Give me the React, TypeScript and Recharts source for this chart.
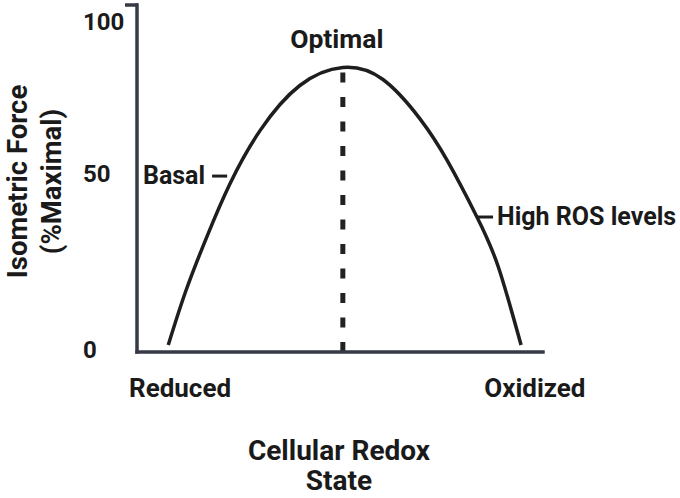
import React from 'react';
import { LineChart, Line, XAxis, YAxis, ReferenceLine } from 'recharts';

// Curve (x: redox state 0-100, y: isometric force % maximal)
const redoxState = [7.7, 12.0, 17.2, 22.9, 30.3, 40.1, 50.7, 60.5, 69.7, 76.5, 83.7, 89.0, 94.6];
const isometricForce = [2.0, 17.5, 33.2, 48.5, 63.8, 76.8, 82.0, 78.6, 67.2, 55.0, 39.0, 24.5, 2.0];

const yTicks = [0, 50, 100];
const xTickValues = [10.6, 98.0];
const xTickLabels = ['Reduced', 'Oxidized'];

const optimalLabel = 'Optimal';
const optimalX = 50.7;
const optimalY = 82.0;

const markerLabels = ['Basal', 'High ROS levels'];
const markerY = [50.7, 38.9];
const markerXStart = [18.5, 83.7];
const markerXEnd = [22.2, 87.7];

const xTitleLines = ['Cellular Redox', 'State'];
const yTitleLines = ['Isometric Force', '(%Maximal)'];

const data = redoxState.map((x, i) => ({ x, y: isometricForce[i] }));

const FONT = 'Roboto, "Noto Sans", Arial, sans-serif';
const INK = '#1a1a1a';
const AXIS = '#363a44';

const YTick = (props: any) => {
  const { x, y, payload } = props;
  const isTop = payload.value === yTicks[yTicks.length - 1];
  const isBottom = payload.value === yTicks[0];
  return (
    <g>
      {isTop && (
        <line x1={x + 2} x2={x + 15} y1={y} y2={y} stroke={AXIS} strokeWidth={3.5} />
      )}
      <text
        x={x - 40}
        y={y}
        dy={isTop ? 25 : isBottom ? 6 : 3}
        textAnchor="start"
        fontFamily={FONT}
        fontWeight={700}
        fontSize={24}
        fill={INK}
      >
        {payload.value}
      </text>
    </g>
  );
};

const XTick = (props: any) => {
  const { x, y, payload, index } = props;
  return (
    <text
      x={x}
      y={y}
      dy={45}
      textAnchor="middle"
      fontFamily={FONT}
      fontWeight={700}
      fontSize={26}
      fill={INK}
    >
      {xTickLabels[index] ?? payload.value}
    </text>
  );
};

const XTitle = (props: any) => {
  const vb = props.viewBox;
  const cx = vb.x + vb.width / 2 - 1;
  return (
    <text textAnchor="middle" fontFamily={FONT} fontWeight={700} fontSize={28} fill={INK}>
      <tspan x={cx} y={vb.y + 108}>{xTitleLines[0]}</tspan>
      <tspan x={cx} y={vb.y + 138}>{xTitleLines[1]}</tspan>
    </text>
  );
};

const YTitle = (props: any) => {
  const vb = props.viewBox;
  const px = vb.x + 44;
  const py = vb.y + vb.height / 2 + 3;
  return (
    <text
      transform={`rotate(-90, ${px}, ${py})`}
      textAnchor="middle"
      fontFamily={FONT}
      fontWeight={700}
      fontSize={27.5}
      fill={INK}
    >
      <tspan x={px} y={py - 17}>{yTitleLines[0]}</tspan>
      <tspan x={px} y={py + 17}>{yTitleLines[1]}</tspan>
    </text>
  );
};

const OptimalLabel = (props: any) => {
  const vb = props.viewBox;
  return (
    <text
      x={vb.x - 6}
      y={vb.y - 19}
      textAnchor="middle"
      fontFamily={FONT}
      fontWeight={700}
      fontSize={26.5}
      fill={INK}
    >
      {optimalLabel}
    </text>
  );
};

const makeMarkerLabel = (i: number) => (props: any) => {
  const vb = props.viewBox;
  const left = i === 0;
  return (
    <text
      x={left ? vb.x - 7 : vb.x + vb.width + 4}
      y={vb.y + 8}
      textAnchor={left ? 'end' : 'start'}
      fontFamily={FONT}
      fontWeight={700}
      fontSize={25}
      fill={INK}
    >
      {markerLabels[i]}
    </text>
  );
};

export default function App() {
  return (
    <div style={{ position: 'absolute', left: 0, top: 0, width: 680, height: 498, background: '#fff' }}>
      <LineChart width={680} height={498} data={data} margin={{ top: 5, right: 137, bottom: 0, left: 0 }}>
        <XAxis
          type="number"
          dataKey="x"
          domain={[0, 100]}
          ticks={xTickValues}
          tick={<XTick />}
          tickLine={false}
          tickSize={0}
          tickMargin={0}
          height={146}
          axisLine={{ stroke: AXIS, strokeWidth: 3.5, strokeLinecap: 'square' }}
          label={{ content: (p: any) => <XTitle {...p} /> }}
          interval={0}
        />
        <YAxis
          type="number"
          domain={[0, 100]}
          ticks={yTicks}
          tick={<YTick />}
          tickLine={false}
          tickSize={10}
          tickMargin={4}
          width={137}
          axisLine={{ stroke: AXIS, strokeWidth: 3.5, strokeLinecap: 'square' }}
          label={{ content: (p: any) => <YTitle {...p} /> }}
          interval={0}
        />
        <Line
          type="natural"
          dataKey="y"
          stroke="#1e1e1e"
          strokeWidth={3.5}
          dot={false}
          activeDot={false}
          isAnimationActive={false}
        />
        <ReferenceLine
          segment={[{ x: optimalX, y: 0 }, { x: optimalX, y: optimalY }]}
          stroke="#222"
          strokeWidth={5}
          strokeDasharray="10 14.5"
          label={(p: any) => <OptimalLabel {...p} />}
        />
        {markerLabels.map((m, i) => (
          <ReferenceLine
            key={m}
            segment={[{ x: markerXStart[i], y: markerY[i] }, { x: markerXEnd[i], y: markerY[i] }]}
            stroke="#1e1e1e"
            strokeWidth={3}
            label={makeMarkerLabel(i)}
          />
        ))}
      </LineChart>
    </div>
  );
}
